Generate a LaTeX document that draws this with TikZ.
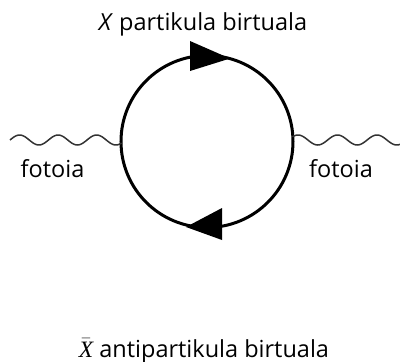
\documentclass[tikz,border=0pt]{standalone}
\usepackage{fontspec}
\setmainfont{Open Sans}
\newfontfamily\serifx{Liberation Serif}
\begin{document}
\begin{tikzpicture}[x=1pt,y=-1pt,
  lbl/.style={inner sep=0pt,anchor=base,font=\fontsize{23.5}{28}\selectfont},
  wave/.style={line width=1.5pt,color=black!80},
  loopline/.style={line width=3pt},
  head/.style={fill=black}]
\useasboundingbox (0,0) rectangle (400,362);
\node[loopline,draw,circle,minimum size=172pt,inner sep=0pt] (loop) at (207,141.5) {};
\draw[wave] plot[domain=10:121.5,samples=150] (\x,{140-5*sin(9.35065*(\x-10))});
\draw[wave] plot[domain=292.5:400,samples=150] (\x,{140-5*cos(9.11392*(\x-298))});
% arrowheads
\fill[head] (190,41) -- (230,58.5) -- (190,71) -- cycle;
\fill[head] (222,208) -- (186,227) -- (222,240) -- cycle;
\node[lbl] (top) at (203,30) {\textit{X} partikula birtuala};
\node[lbl] (fl) at (52.5,177) {fotoia};
\node[lbl] (fr) at (341,177) {fotoia};
\node[lbl] (bot) at (204,357) {$\bar{\hbox{\serifx\itshape X}}$ antipartikula birtuala};
\end{tikzpicture}
\end{document}
